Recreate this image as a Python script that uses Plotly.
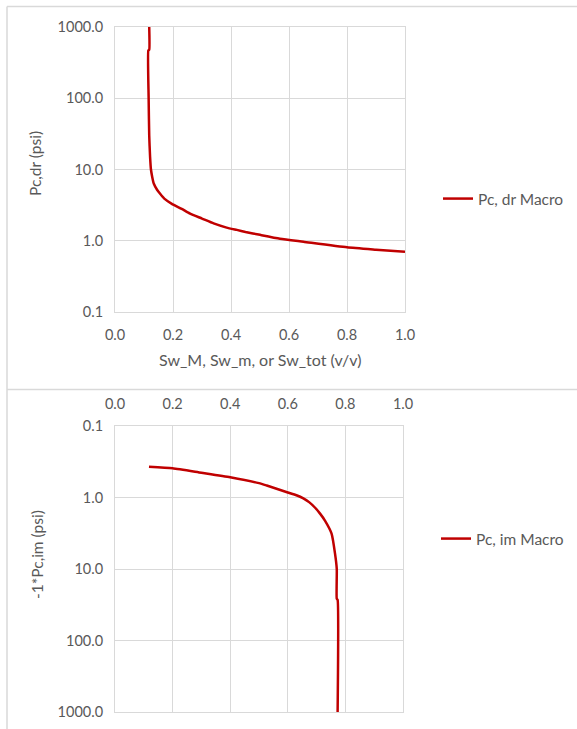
import plotly.graph_objects as go

# ---- data ----
sw_dr = [0.118, 0.118, 0.115, 0.116, 0.118, 0.121, 0.124, 0.128, 0.134, 0.145, 0.155,
         0.17, 0.196, 0.23, 0.259, 0.3, 0.34, 0.385, 0.42, 0.45, 0.5, 0.569, 0.65, 0.8, 0.9, 1.0]
pc_dr = [1000, 480, 470, 100, 30, 15, 10, 8, 6.3, 5.2, 4.6,
         3.9, 3.3, 2.8, 2.4, 2.05, 1.75, 1.53, 1.42, 1.33, 1.21, 1.07, 0.97, 0.81, 0.75, 0.70]

sw_im = [0.118, 0.2, 0.3, 0.4, 0.5, 0.527, 0.6, 0.63, 0.654, 0.675, 0.694, 0.712, 0.729,
         0.752, 0.764, 0.770, 0.770, 0.773, 0.773]
pc_im = [-0.37, -0.39, -0.45, -0.52, -0.63, -0.68, -0.85, -0.93, -1.03, -1.17, -1.38, -1.68,
         -2.1, -3.2, -6.1, -10, -26, -27, -1000]

x_ticks = [0.0, 0.2, 0.4, 0.6, 0.8, 1.0]
x_ticktext = ["0.0", "0.2", "0.4", "0.6", "0.8", "1.0"]
y_ticks = [0.1, 1, 10, 100, 1000]
y_ticktext = ["0.1", "1.0", "10.0", "100.0", "1000.0"]

W, H = 577, 729
FONT = "Lato"
TXT = "#595959"
GRID = "#d9d9d9"
RED = "#c00000"
FS = 14.5
FS_T = 15.5


def px(x):
    return x / W


def py(y):
    return 1 - y / H


fig = go.Figure()
fig.add_trace(go.Scatter(x=sw_dr, y=pc_dr, mode="lines", name="Pc, dr Macro",
                         line=dict(color=RED, width=2.5, shape="spline", smoothing=0.5),
                         xaxis="x", yaxis="y", legend="legend"))
fig.add_trace(go.Scatter(x=sw_im, y=[-1 * v for v in pc_im], mode="lines", name="Pc, im Macro",
                         line=dict(color=RED, width=2.5, shape="spline", smoothing=0.5),
                         xaxis="x2", yaxis="y2", legend="legend2"))

axis_common = dict(showgrid=True, gridcolor=GRID, gridwidth=1, showline=True, linecolor=GRID,
                   linewidth=1, mirror=True, zeroline=False, ticks="",
                   tickfont=dict(family=FONT, size=FS, color=TXT), automargin=False)

fig.update_layout(
    width=W, height=H,
    margin=dict(l=0, r=0, t=0, b=0),
    paper_bgcolor="white", plot_bgcolor="white",
    font=dict(family=FONT, size=FS, color=TXT),
    xaxis=dict(domain=[px(115), px(405)], range=[0, 1], tickvals=x_ticks, ticktext=x_ticktext,
               anchor="y", ticklabelstandoff=10, **axis_common),
    yaxis=dict(domain=[py(312), py(27)], type="log", range=[-1, 3], tickvals=y_ticks,
               ticktext=y_ticktext, anchor="x", ticklabelstandoff=8, **axis_common),
    xaxis2=dict(domain=[px(115), px(403)], range=[0, 1], tickvals=x_ticks, ticktext=x_ticktext,
                anchor="y2", side="top", ticklabelstandoff=10, **axis_common),
    yaxis2=dict(domain=[py(712), py(426)], type="log", range=[3, -1], tickvals=y_ticks,
                ticktext=y_ticktext, anchor="x2", ticklabelstandoff=8, **axis_common),
    legend=dict(x=px(438), y=py(199), xanchor="left", yanchor="middle",
                font=dict(family=FONT, size=FS_T, color=TXT), bgcolor="rgba(0,0,0,0)"),
    legend2=dict(x=px(436), y=py(539), xanchor="left", yanchor="middle",
                 font=dict(family=FONT, size=FS_T, color=TXT), bgcolor="rgba(0,0,0,0)"),
    showlegend=True,
)

fig.update_layout(annotations=[
    dict(text="Pc,dr (psi)", x=px(35), y=py(164), xref="paper", yref="paper",
         xanchor="center", yanchor="middle",
         textangle=-90, showarrow=False, font=dict(family=FONT, size=FS_T, color=TXT)),
    dict(text="-1*Pc,im (psi)", x=px(37), y=py(555), xref="paper", yref="paper",
         xanchor="center", yanchor="middle",
         textangle=-90, showarrow=False, font=dict(family=FONT, size=FS_T, color=TXT)),
    dict(text="Sw_M, Sw_m, or Sw_tot (v/v)", x=px(260), y=py(359), xref="paper", yref="paper",
         xanchor="center", yanchor="middle",
         showarrow=False, font=dict(family=FONT, size=16, color=TXT)),
])

border = dict(color=GRID, width=1.5)
fig.update_layout(shapes=[
    dict(type="line", xref="paper", yref="paper", x0=px(7), x1=1, y0=py(6.5), y1=py(6.5), line=border),
    dict(type="line", xref="paper", yref="paper", x0=px(7), x1=px(7), y0=py(6.5), y1=0, line=border),
    dict(type="line", xref="paper", yref="paper", x0=px(7), x1=1, y0=py(389.5), y1=py(389.5), line=border),
])

fig.write_html("out.html")
